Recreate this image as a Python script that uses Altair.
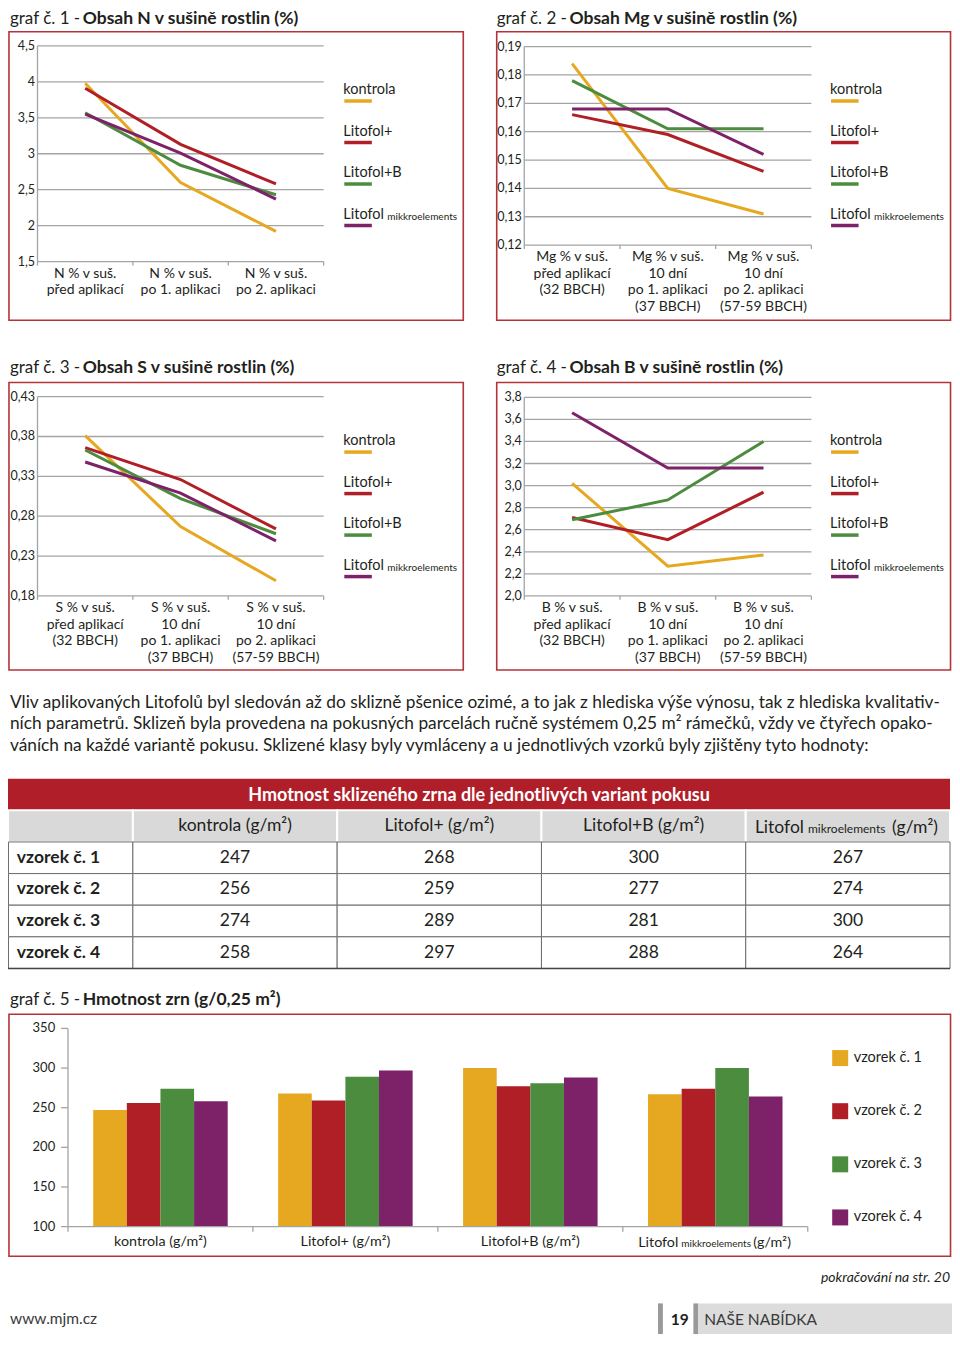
import altair as alt
import pandas as pd

# page is 960x1345 with an 8px body margin -> map reference pixels into the 944x1329 view
VIEW_W = 944
VIEW_H = 1329


def X(v):
    return round(v * VIEW_W / 960, 2)


def Y(v):
    return round(v * VIEW_H / 1345, 2)


FONT = "Lato"
INK = "#231f20"
GRID = "#a4a4a4"
FRAME = "#b4343b"

# ---------------------------------------------------------------- data
SERIES = ["kontrola", "Litofol+", "Litofol+B", "Litofol mikkroelements"]
COLORS = ["#e6a820", "#b01f26", "#4c8c3e", "#7d2268"]

N_CATS = ["N % v suš.\npřed aplikací", "N % v suš.\npo 1. aplikaci", "N % v suš.\npo 2. aplikaci"]
N_KONTROLA = [3.98, 2.60, 1.92]
N_LITOFOL = [3.91, 3.13, 2.58]
N_LITOFOL_B = [3.57, 2.84, 2.43]
N_MIKRO = [3.55, 3.01, 2.37]
N_TICKS = [1.5, 2.0, 2.5, 3.0, 3.5, 4.0, 4.5]
N_TICK_LABELS = ["1,5", "2", "2,5", "3", "3,5", "4", "4,5"]

MG_CATS = ["Mg % v suš.\npřed aplikací\n(32 BBCH)",
           "Mg % v suš.\n10 dní\npo 1. aplikaci\n(37 BBCH)",
           "Mg % v suš.\n10 dní\npo 2. aplikaci\n(57-59 BBCH)"]
MG_KONTROLA = [0.184, 0.140, 0.131]
MG_LITOFOL = [0.166, 0.159, 0.146]
MG_LITOFOL_B = [0.178, 0.161, 0.161]
MG_MIKRO = [0.168, 0.168, 0.152]
MG_TICKS = [0.12, 0.13, 0.14, 0.15, 0.16, 0.17, 0.18, 0.19]
MG_TICK_LABELS = ["0,12", "0,13", "0,14", "0,15", "0,16", "0,17", "0,18", "0,19"]

S_CATS = ["S % v suš.\npřed aplikací\n(32 BBCH)",
          "S % v suš.\n10 dní\npo 1. aplikaci\n(37 BBCH)",
          "S % v suš.\n10 dní\npo 2. aplikaci\n(57-59 BBCH)"]
S_KONTROLA = [0.381, 0.267, 0.199]
S_LITOFOL = [0.366, 0.326, 0.264]
S_LITOFOL_B = [0.363, 0.302, 0.258]
S_MIKRO = [0.348, 0.309, 0.249]
S_TICKS = [0.18, 0.23, 0.28, 0.33, 0.38, 0.43]
S_TICK_LABELS = ["0,18", "0,23", "0,28", "0,33", "0,38", "0,43"]

B_CATS = ["B % v suš.\npřed aplikací\n(32 BBCH)",
          "B % v suš.\n10 dní\npo 1. aplikaci\n(37 BBCH)",
          "B % v suš.\n10 dní\npo 2. aplikaci\n(57-59 BBCH)"]
B_KONTROLA = [3.02, 2.27, 2.37]
B_LITOFOL = [2.71, 2.51, 2.94]
B_LITOFOL_B = [2.69, 2.87, 3.40]
B_MIKRO = [3.66, 3.16, 3.16]
B_TICKS = [2.0, 2.2, 2.4, 2.6, 2.8, 3.0, 3.2, 3.4, 3.6, 3.8]
B_TICK_LABELS = ["2,0", "2,2", "2,4", "2,6", "2,8", "3,0", "3,2", "3,4", "3,6", "3,8"]

VARIANTS = ["kontrola", "Litofol+", "Litofol+B", "Litofol mikroelements"]
SAMPLES = ["vzorek č. 1", "vzorek č. 2", "vzorek č. 3", "vzorek č. 4"]
MASS_KONTROLA = [247, 256, 274, 258]
MASS_LITOFOL = [268, 259, 289, 297]
MASS_LITOFOL_B = [300, 277, 281, 288]
MASS_MIKRO = [267, 274, 300, 264]
BAR_TICKS = [100, 150, 200, 250, 300, 350]
BAR_TICK_LABELS = ["100", "150", "200", "250", "300", "350"]
BAR_LABELS = ["kontrola (g/m²)", "Litofol+ (g/m²)", "Litofol+B (g/m²)", "Litofol mikkroelements (g/m²)"]
TABLE_HEADERS = ["kontrola (g/m²)", "Litofol+ (g/m²)", "Litofol+B (g/m²)", "Litofol mikroelements (g/m²)"]

PARAGRAPH = [
    "Vliv aplikovaných Litofolů byl sledován až do sklizně pšenice ozimé, a to jak z hlediska výše výnosu, tak z hlediska kvalitativ-",
    "ních parametrů. Sklizeň byla provedena na pokusných parcelách ručně systémem 0,25 m² rámečků, vždy ve čtyřech opako-",
    "váních na každé variantě pokusu. Sklizené klasy byly vymláceny a u jednotlivých vzorků byly zjištěny tyto hodnoty:",
]

ONE = pd.DataFrame({"k": [0]})


# ---------------------------------------------------------------- helpers
def txt(s, x, y, size=14, weight="normal", align="left", baseline="alphabetic",
        color=INK, style="normal"):
    return alt.Chart(ONE).mark_text(
        text=s, align=align, baseline=baseline, fontSize=size, fontWeight=weight,
        color=color, fontStyle=style, font=FONT,
    ).encode(x=alt.value(X(x)), y=alt.value(Y(y)))


def rect(x0, y0, x1, y1, fill="white", fill_opacity=1.0, stroke=None, sw=1.0):
    kw = dict(fill=fill, fillOpacity=fill_opacity)
    if stroke is not None:
        kw.update(stroke=stroke, strokeWidth=sw)
    return alt.Chart(ONE).mark_rect(**kw).encode(
        x=alt.value(X(x0)), x2=alt.value(X(x1)), y=alt.value(Y(y0)), y2=alt.value(Y(y1)))


def line_panel(cats, series_values, ticks, tick_labels, x0, x1, yb, yt):
    xs = alt.Scale(type="band", domain=cats, range=[X(x0), X(x1)], paddingInner=0, paddingOuter=0)
    ys = alt.Scale(type="linear", domain=[ticks[0], ticks[-1]], range=[Y(yb), Y(yt)],
                   nice=False, zero=False)
    cs = alt.Scale(domain=SERIES, range=COLORS)
    rows = []
    for s, vals in zip(SERIES, series_values):
        for i, (c, v) in enumerate(zip(cats, vals)):
            rows.append({"cat": c, "series": s, "value": v, "idx": i})
    df = pd.DataFrame(rows)
    tdf = pd.DataFrame({"tick": ticks, "label": tick_labels})
    cdf = pd.DataFrame({"cat": cats, "base": [ticks[0]] * len(cats)})

    grid = alt.Chart(tdf).mark_rule(color=GRID, strokeWidth=1.3).encode(
        y=alt.Y("tick:Q", scale=ys, axis=None),
        x=alt.value(X(x0)), x2=alt.value(X(x1)))
    yaxis = alt.Chart(tdf).mark_rule(color=GRID, strokeWidth=1.3).encode(
        y=alt.Y("min(tick):Q", scale=ys, axis=None), y2=alt.Y2("max(tick):Q"),
        x=alt.value(X(x0)))
    ylabels = alt.Chart(tdf).mark_text(
        align="right", baseline="middle", font=FONT, fontSize=12.5, color=INK).encode(
        y=alt.Y("tick:Q", scale=ys, axis=None), x=alt.value(X(x0 - 2.5)), text="label:N")
    xticks = alt.Chart(cdf).mark_rule(color=GRID, strokeWidth=1.3).encode(
        x=alt.X("cat:N", scale=xs, axis=None, bandPosition=0),
        y=alt.Y("base:Q", scale=ys, axis=None), y2=alt.value(Y(yb + 4)))
    xend = alt.Chart(cdf.tail(1)).mark_rule(color=GRID, strokeWidth=1.3).encode(
        x=alt.X("cat:N", scale=xs, axis=None, bandPosition=1),
        y=alt.Y("base:Q", scale=ys, axis=None), y2=alt.value(Y(yb + 4)))
    xlabels = alt.Chart(cdf).mark_text(
        align="center", baseline="top", lineBreak="\n", lineHeight=16.7,
        font=FONT, fontSize=14, color=INK).encode(
        x=alt.X("cat:N", scale=xs, axis=None, bandPosition=0.5),
        y=alt.value(Y(yb + 5)), text="cat:N")
    lines = alt.Chart(df).mark_line(strokeWidth=3, strokeJoin="miter").encode(
        x=alt.X("cat:N", scale=xs, axis=None, bandPosition=0.5),
        y=alt.Y("value:Q", scale=ys, axis=None),
        color=alt.Color("series:N", scale=cs, legend=None),
        order=alt.Order("idx:Q"))
    return alt.layer(grid, yaxis, xticks, xend, ylabels, xlabels, lines)


def legend_block(x, y_first):
    main = [s.split(" ")[0] for s in SERIES]
    small = [s.split(" ", 1)[1] if " " in s else "" for s in SERIES]
    ldf = pd.DataFrame({"series": SERIES, "main": main, "small": small})
    ys = alt.Scale(type="point", domain=SERIES, range=[Y(y_first), Y(y_first + 126)], padding=0)
    cs = alt.Scale(domain=SERIES, range=COLORS)
    sw = alt.Chart(ldf).mark_rule(strokeWidth=3.5, yOffset=11).encode(
        x=alt.value(X(x + 1)), x2=alt.value(X(x + 29)),
        y=alt.Y("series:N", scale=ys, axis=None),
        color=alt.Color("series:N", scale=cs, legend=None))
    t = alt.Chart(ldf).mark_text(
        align="left", baseline="middle", font=FONT, fontSize=14.5, color=INK).encode(
        x=alt.value(X(x)), y=alt.Y("series:N", scale=ys, axis=None), text="main:N")
    t2 = alt.Chart(ldf).transform_filter("datum.small != ''").mark_text(
        align="left", baseline="middle", font=FONT, fontSize=10, color=INK,
        dx=44, dy=2).encode(
        x=alt.value(X(x)), y=alt.Y("series:N", scale=ys, axis=None), text="small:N")
    return alt.layer(sw, t, t2)


def title(num, bold, x_num, x_bold, y):
    return [txt(num, x_num, y, size=17),
            txt(bold, x_bold, y, size=17.5, weight="bold")]


layers = []

# ---------------------------------------------------------------- four line charts
layers += [rect(1, 24, 463, 316, fill_opacity=0, stroke=FRAME, sw=1.6),
           rect(497, 24, 958.5, 316, fill_opacity=0, stroke=FRAME, sw=1.6),
           rect(1, 379, 463, 670, fill_opacity=0, stroke=FRAME, sw=1.6),
           rect(497, 379, 958.5, 670, fill_opacity=0, stroke=FRAME, sw=1.6)]
layers += title("graf č. 1 -", "Obsah N v sušině rostlin (%)", 2, 76, 16)
layers += title("graf č. 2 -", "Obsah Mg v sušině rostlin (%)", 497, 571, 16)
layers += title("graf č. 3 -", "Obsah S v sušině rostlin (%)", 2, 76, 369)
layers += title("graf č. 4 -", "Obsah B v sušině rostlin (%)", 497, 571, 369)

layers.append(line_panel(N_CATS, [N_KONTROLA, N_LITOFOL, N_LITOFOL_B, N_MIKRO],
                         N_TICKS, N_TICK_LABELS, 30, 321, 256.7, 38.3))
layers.append(line_panel(MG_CATS, [MG_KONTROLA, MG_LITOFOL, MG_LITOFOL_B, MG_MIKRO],
                         MG_TICKS, MG_TICK_LABELS, 525, 817, 240, 39))
layers.append(line_panel(S_CATS, [S_KONTROLA, S_LITOFOL, S_LITOFOL_B, S_MIKRO],
                         S_TICKS, S_TICK_LABELS, 30, 321, 595, 393.3))
layers.append(line_panel(B_CATS, [B_KONTROLA, B_LITOFOL, B_LITOFOL_B, B_MIKRO],
                         B_TICKS, B_TICK_LABELS, 525, 817, 595, 394))
layers.append(legend_block(341, 83))
layers.append(legend_block(836, 83))
layers.append(legend_block(341, 438.3))
layers.append(legend_block(836, 438.3))

# ---------------------------------------------------------------- paragraph
for i, line in enumerate(PARAGRAPH):
    layers.append(txt(line, 2, 708.5 + i * 21.5, size=17.3))

# ---------------------------------------------------------------- table
MASS = [MASS_KONTROLA, MASS_LITOFOL, MASS_LITOFOL_B, MASS_MIKRO]
trows = []
for v, vals in zip(VARIANTS, MASS):
    for s, m in zip(SAMPLES, vals):
        trows.append({"variant": v, "sample": s, "mass": m})
tdf = pd.DataFrame(trows)
hdf = pd.DataFrame({"variant": VARIANTS, "header": TABLE_HEADERS})
sdf = pd.DataFrame({"sample": SAMPLES})

txs = alt.Scale(type="band", domain=VARIANTS, range=[X(127), X(958)], paddingInner=0, paddingOuter=0)
tys = alt.Scale(type="band", domain=SAMPLES, range=[Y(844), Y(972)], paddingInner=0, paddingOuter=0)

layers.append(rect(0, 780, 958, 812, fill="#b01f29"))
layers.append(txt("Hmotnost sklizeného zrna dle jednotlivých variant pokusu", 479, 802.5,
                  size=18, weight="bold", align="center", color="white"))
layers.append(rect(0, 812, 127, 844, fill="#d9d9d9", stroke="white", sw=2))

head_cells = alt.Chart(hdf).mark_rect(fill="#d9d9d9", stroke="white", strokeWidth=2).encode(
    x=alt.X("variant:N", scale=txs, axis=None), y=alt.value(Y(812)), y2=alt.value(Y(844)))
head_text = alt.Chart(hdf).transform_filter(f"datum.variant != '{VARIANTS[3]}'").mark_text(
    align="center", baseline="middle", font=FONT, fontSize=17.5, color=INK).encode(
    x=alt.X("variant:N", scale=txs, axis=None, bandPosition=0.5), y=alt.value(Y(828)),
    text="header:N")
mik = alt.Chart(hdf).transform_filter(f"datum.variant == '{VARIANTS[3]}'")
head_m1 = mik.mark_text(align="left", baseline="alphabetic", font=FONT, fontSize=17.5, color=INK,
                        dx=-93).encode(
    x=alt.X("variant:N", scale=txs, axis=None, bandPosition=0.5), y=alt.value(Y(834.5)),
    text=alt.value("Litofol"))
head_m2 = mik.mark_text(align="left", baseline="alphabetic", font=FONT, fontSize=12, color=INK,
                        dx=-40).encode(
    x=alt.X("variant:N", scale=txs, axis=None, bandPosition=0.5), y=alt.value(Y(834.5)),
    text=alt.value("mikroelements"))
head_m3 = mik.mark_text(align="left", baseline="alphabetic", font=FONT, fontSize=17.5, color=INK,
                        dx=44).encode(
    x=alt.X("variant:N", scale=txs, axis=None, bandPosition=0.5), y=alt.value(Y(834.5)),
    text=alt.value("(g/m²)"))
row_cells = alt.Chart(sdf).mark_rect(fill="white", stroke="#6d6d6d", strokeWidth=1).encode(
    x=alt.value(X(0.5)), x2=alt.value(X(127)), y=alt.Y("sample:N", scale=tys, axis=None))
row_text = alt.Chart(sdf).mark_text(align="left", baseline="middle", font=FONT, fontSize=17.5,
                                    fontWeight="bold", color=INK).encode(
    x=alt.value(X(9)), y=alt.Y("sample:N", scale=tys, axis=None, bandPosition=0.5),
    text="sample:N")
cells = alt.Chart(tdf).mark_rect(fill="white", stroke="#6d6d6d", strokeWidth=1).encode(
    x=alt.X("variant:N", scale=txs, axis=None), y=alt.Y("sample:N", scale=tys, axis=None))
cell_text = alt.Chart(tdf).mark_text(align="center", baseline="middle", font=FONT, fontSize=17.5,
                                     color=INK).encode(
    x=alt.X("variant:N", scale=txs, axis=None, bandPosition=0.5),
    y=alt.Y("sample:N", scale=tys, axis=None, bandPosition=0.5), text="mass:Q")
bottom = alt.Chart(sdf).transform_filter(f"datum.sample == '{SAMPLES[-1]}'").mark_rule(
    color="#444444", strokeWidth=1.6).encode(
    x=alt.value(X(0)), x2=alt.value(X(958)),
    y=alt.Y("sample:N", scale=tys, axis=None, bandPosition=1))
layers.append(alt.layer(head_cells, head_text, head_m1, head_m2, head_m3,
                        row_cells, cells, row_text, cell_text, bottom))

# ---------------------------------------------------------------- bar chart
layers.append(rect(1, 1018.3, 958.5, 1263.3, fill_opacity=0, stroke=FRAME, sw=1.6))
layers += title("graf č. 5 -", "Hmotnost zrn (g/0,25 m²)", 2, 76, 1009.5)

brows = []
for v, vals in zip(VARIANTS, MASS):
    for s, m in zip(SAMPLES, vals):
        brows.append({"variant": v, "sample": s, "mass": m})
bdf = pd.DataFrame(brows)
btdf = pd.DataFrame({"tick": BAR_TICKS, "label": BAR_TICK_LABELS})
bcdf = pd.DataFrame({"variant": VARIANTS, "label": BAR_LABELS, "base": [BAR_TICKS[0]] * 4})

bxs = alt.Scale(type="band", domain=VARIANTS, range=[X(61), X(813.3)], paddingInner=0, paddingOuter=0)
bys = alt.Scale(type="linear", domain=[BAR_TICKS[0], BAR_TICKS[-1]], range=[Y(1233.3), Y(1032.7)],
                nice=False, zero=False)
bcs = alt.Scale(domain=SAMPLES, range=COLORS)

bars = alt.Chart(bdf).mark_bar().encode(
    x=alt.X("variant:N", scale=bxs, axis=None),
    xOffset=alt.XOffset("sample:N", scale=alt.Scale(domain=SAMPLES, paddingInner=0, paddingOuter=0.75)),
    y=alt.Y("mass:Q", scale=bys, axis=None), y2=alt.datum(BAR_TICKS[0]),
    color=alt.Color("sample:N", scale=bcs, legend=None))
b_yaxis = alt.Chart(btdf).mark_rule(color=GRID, strokeWidth=1.3).encode(
    y=alt.Y("min(tick):Q", scale=bys, axis=None), y2=alt.Y2("max(tick):Q"), x=alt.value(X(61)))
b_yticks = alt.Chart(btdf).mark_rule(color=GRID, strokeWidth=1.3).encode(
    y=alt.Y("tick:Q", scale=bys, axis=None), x=alt.value(X(54)), x2=alt.value(X(61)))
b_ylabels = alt.Chart(btdf).mark_text(align="right", baseline="middle", font=FONT, fontSize=13,
                                      color=INK).encode(
    y=alt.Y("tick:Q", scale=bys, axis=None), x=alt.value(X(48)), text="label:N")
b_xaxis = alt.Chart(btdf).mark_rule(color=GRID, strokeWidth=1.3).encode(
    y=alt.Y("min(tick):Q", scale=bys, axis=None), x=alt.value(X(61)), x2=alt.value(X(813.3)))
b_xticks = alt.Chart(bcdf).mark_rule(color=GRID, strokeWidth=1.3).encode(
    x=alt.X("variant:N", scale=bxs, axis=None, bandPosition=0),
    y=alt.Y("base:Q", scale=bys, axis=None), y2=alt.value(Y(1238.5)))
b_xend = alt.Chart(bcdf.tail(1)).mark_rule(color=GRID, strokeWidth=1.3).encode(
    x=alt.X("variant:N", scale=bxs, axis=None, bandPosition=1),
    y=alt.Y("base:Q", scale=bys, axis=None), y2=alt.value(Y(1238.5)))
b_xlabels = alt.Chart(bcdf).transform_filter(f"datum.variant != '{VARIANTS[3]}'").mark_text(
    align="center", baseline="middle", font=FONT, fontSize=14.3, color=INK).encode(
    x=alt.X("variant:N", scale=bxs, axis=None, bandPosition=0.5), y=alt.value(Y(1249)),
    text="label:N")
bmik = alt.Chart(bcdf).transform_filter(f"datum.variant == '{VARIANTS[3]}'")
b_m1 = bmik.mark_text(align="left", baseline="alphabetic", font=FONT, fontSize=14.3, color=INK,
                      dx=-77).encode(
    x=alt.X("variant:N", scale=bxs, axis=None, bandPosition=0.5), y=alt.value(Y(1254)),
    text=alt.value("Litofol"))
b_m2 = bmik.mark_text(align="left", baseline="alphabetic", font=FONT, fontSize=10, color=INK,
                      dx=-34).encode(
    x=alt.X("variant:N", scale=bxs, axis=None, bandPosition=0.5), y=alt.value(Y(1254)),
    text=alt.value("mikkroelements"))
b_m3 = bmik.mark_text(align="left", baseline="alphabetic", font=FONT, fontSize=14.3, color=INK,
                      dx=38).encode(
    x=alt.X("variant:N", scale=bxs, axis=None, bandPosition=0.5), y=alt.value(Y(1254)),
    text=alt.value("(g/m²)"))
layers.append(alt.layer(bars, b_yaxis, b_yticks, b_ylabels, b_xaxis, b_xticks, b_xend,
                        b_xlabels, b_m1, b_m2, b_m3))

bl = pd.DataFrame({"sample": SAMPLES})
bls = alt.Scale(type="point", domain=SAMPLES, range=[Y(1062.7), Y(1224)], padding=0)
b_leg_sq = alt.Chart(bl).mark_square(size=256, opacity=1).encode(
    x=alt.value(X(846.3)), y=alt.Y("sample:N", scale=bls, axis=None),
    color=alt.Color("sample:N", scale=bcs, legend=None))
b_leg_t = alt.Chart(bl).mark_text(align="left", baseline="middle", font=FONT, fontSize=14.5,
                                  color=INK).encode(
    x=alt.value(X(860)), y=alt.Y("sample:N", scale=bls, axis=None), text="sample:N")
layers.append(alt.layer(b_leg_sq, b_leg_t))

# ---------------------------------------------------------------- footer
layers.append(txt("pokračování na str. 20", 958, 1289, size=14, style="italic", align="right"))
layers.append(txt("www.mjm.cz", 2, 1332, size=15.5, color="#3a3a3a"))
layers.append(rect(661, 1311, 666, 1342, fill="#9a9a9a"))
layers.append(txt("19", 683, 1332.5, size=15.5, weight="bold", align="center"))
layers.append(rect(697, 1311, 702, 1342, fill="#9a9a9a"))
layers.append(rect(702, 1311, 960, 1342, fill="#dcdcdc"))
layers.append(txt("NAŠE NABÍDKA", 708, 1332.5, size=15.5, color="#3a3a3a"))

chart = alt.layer(*layers).resolve_scale(
    x="independent", y="independent", color="independent"
).properties(
    width=VIEW_W, height=VIEW_H, padding=0, autosize=alt.AutoSizeParams(type="none"),
    background="white",
).configure_view(stroke=None)

chart.save("out.html", embed_options={"renderer": "svg", "actions": False})
